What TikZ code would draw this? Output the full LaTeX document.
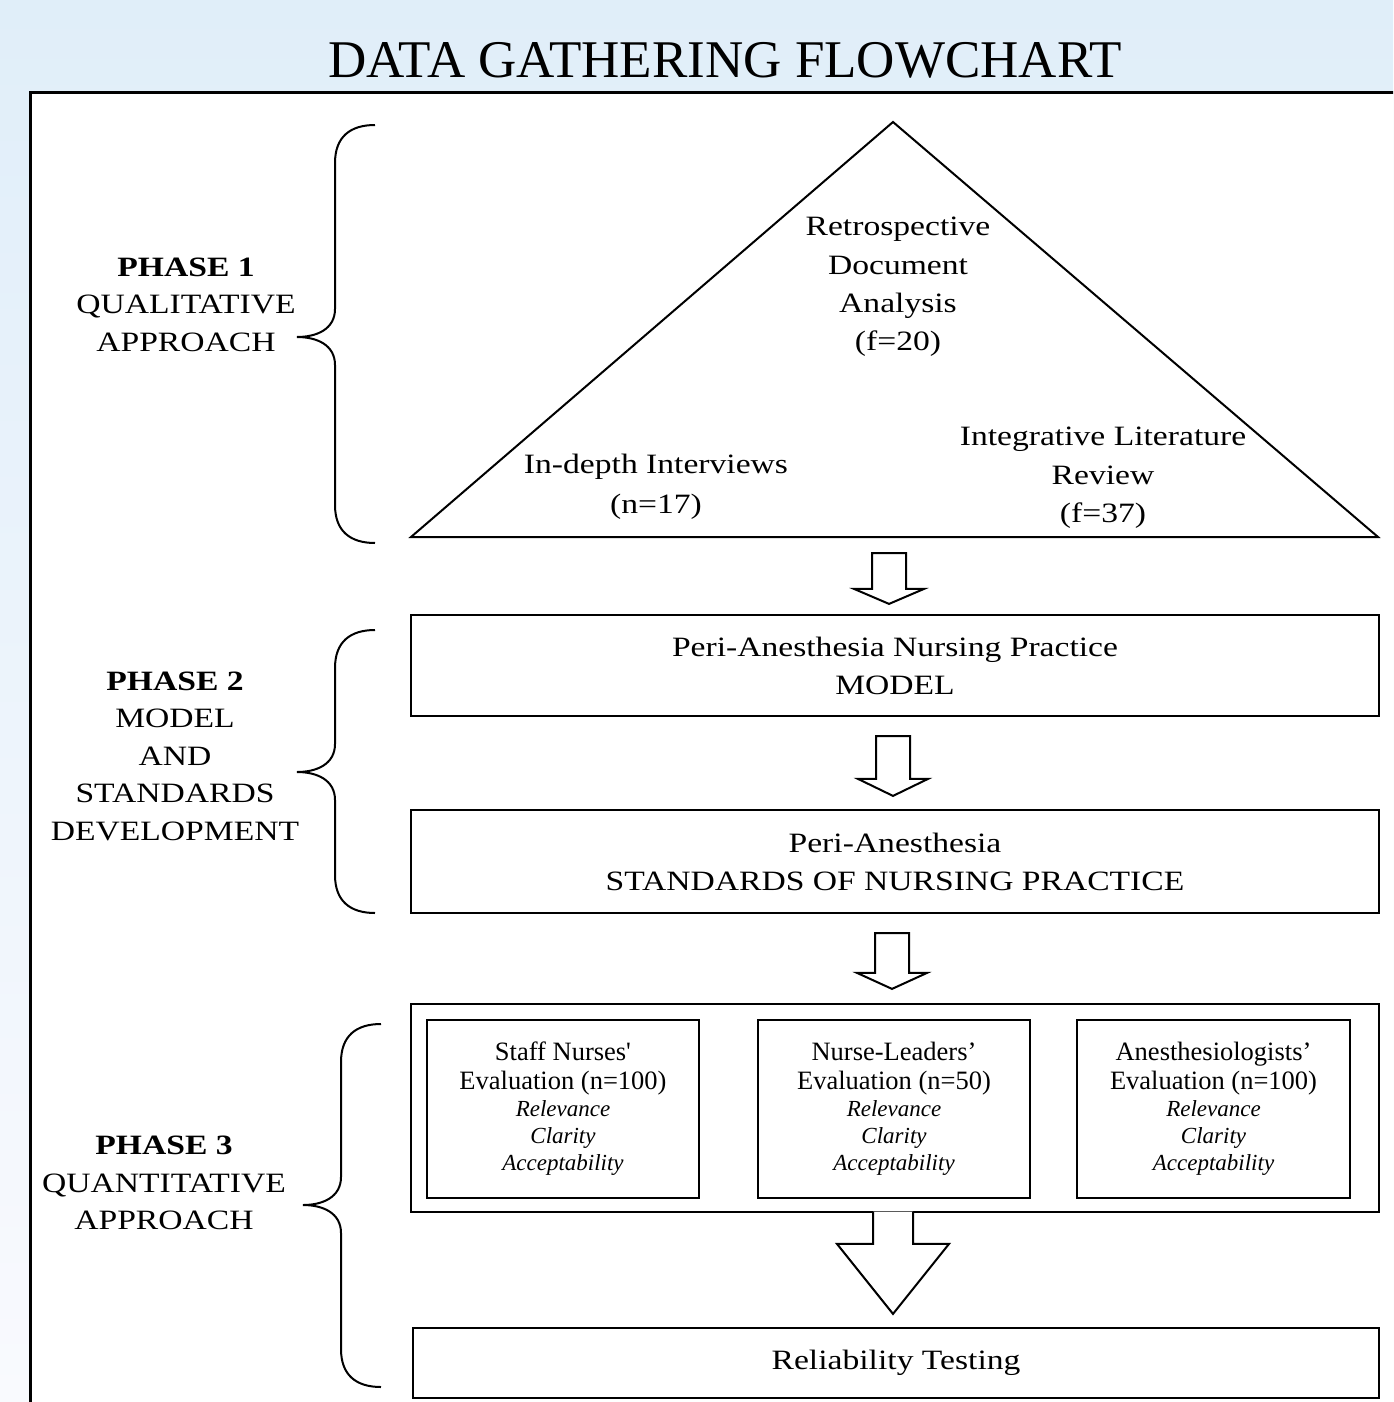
\documentclass[tikz,border=0pt]{standalone}
\usepackage{fontspec}
\setmainfont{Liberation Serif}
\newfontfamily\bookish[FakeStretch=1.2]{Liberation Serif}
\usepackage{tikz}

\definecolor{bgtop}{RGB}{224,238,249}
\definecolor{bgbot}{RGB}{249,250,254}

% llave de fase: x de la linea, y arriba, y punta, y abajo
\newcommand{\phasebrace}[4]{%
  \draw[bracket] (#1+40,#2) .. controls (#1+15,#2) and (#1,#2+12) .. (#1,#2+38)
    -- (#1,#3-28) .. controls (#1,#3-8) and (#1-18,#3) .. (#1-38,#3)
    .. controls (#1-18,#3) and (#1,#3+8) .. (#1,#3+28)
    -- (#1,#4-38) .. controls (#1,#4-12) and (#1+15,#4) .. (#1+40,#4);}

% flecha hueca: origen, punta, medio ancho cuerpo, medio ancho cabeza, largo cabeza, cierre
\newcommand{\hollowarrow}[6]{%
  \draw[blockarrow] ([xshift=-#3pt]#1) -- ([xshift=-#3pt,yshift=#5pt]#2)
    -- ([xshift=-#4pt,yshift=#5pt]#2) -- (#2) -- ([xshift=#4pt,yshift=#5pt]#2)
    -- ([xshift=#3pt,yshift=#5pt]#2) -- ([xshift=#3pt]#1) #6;}

\tikzset{
  bracket/.style={line width=2pt},
  triline/.style={line width=2pt, line join=miter},
  blockarrow/.style={line width=2pt, fill=white, line join=miter},
  flowbox/.style={draw, line width=2.2pt, inner sep=0pt, align=center,
    minimum width=968pt, font=\bookish\fontsize{28}{38}\selectfont},
  evalbox/.style={draw, line width=2.2pt, inner sep=0pt, align=center,
    minimum width=272pt, minimum height=178pt,
    font=\rmfamily\fontsize{26.5}{29}\selectfont},
  tritext/.style={align=center, inner sep=0pt, font=\bookish\fontsize{28}{38.3}\selectfont},
  phaselabel/.style={align=center, inner sep=0pt, font=\bookish\fontsize{28}{37.5}\selectfont},
}
\newcommand{\crit}[1]{{\itshape\fontsize{23}{27}\selectfont #1}}

\begin{document}
\begin{tikzpicture}[x=1pt, y=-1pt]
    \useasboundingbox (0,0) rectangle (1393,1402);
    \clip (0,0) rectangle (1393,1402);

    % Fondo y panel
    \shade[top color=bgtop, bottom color=bgbot] (0,0) rectangle (1393,1402);
    \draw[line width=3pt, fill=white] (30,93) rectangle (1420,1430);

    % Titulo
    \node[font=\fontsize{53}{60}\selectfont] (title) at (725,60) {DATA GATHERING FLOWCHART};

    % Fase 1: triangulo
    \coordinate (apex) at (893,122);
    \coordinate (baseL) at (411,537);
    \coordinate (baseR) at (1378,537);
    \coordinate (base) at (889,537);
    \draw[triline] (apex) -- (baseR) -- (baseL) -- cycle;
    \node[tritext] (retro) at (898,287) {Retrospective\\Document\\Analysis\\(f=20)};
    \node[tritext, font=\bookish\fontsize{28}{40}\selectfont] (interviews) at (656,487)
        {In-depth Interviews\\(n=17)};
    \node[tritext] (literature) at (1103,478) {Integrative Literature\\Review\\(f=37)};

    % Fase 2: cajas
    \node[flowbox, minimum height=101pt] (model) at (895,665.5)
        {Peri-Anesthesia Nursing Practice\\MODEL};
    \node[flowbox, minimum height=103pt] (standards) at (895,861.5)
        {Peri-Anesthesia\\STANDARDS OF NURSING PRACTICE};

    % Fase 3: evaluaciones
    \node[draw, line width=2.2pt, minimum width=968pt, minimum height=208pt] (evalgroup) at (895,1108) {};
    \node[evalbox] (staff) at (563,1109)
        {Staff Nurses\textquotesingle\\Evaluation (n=100)\\[-2pt]\crit{Relevance}\\[-2pt]\crit{Clarity}\\[-2pt]\crit{Acceptability}};
    \node[evalbox] (leaders) at (894,1109)
        {Nurse-Leaders’\\Evaluation (n=50)\\[-2pt]\crit{Relevance}\\[-2pt]\crit{Clarity}\\[-2pt]\crit{Acceptability}};
    \node[evalbox, minimum width=273pt] (anesth) at (1213.5,1109)
        {Anesthesiologists’\\Evaluation (n=100)\\[-2pt]\crit{Relevance}\\[-2pt]\crit{Clarity}\\[-2pt]\crit{Acceptability}};
    \node[flowbox, minimum width=966pt, minimum height=70pt] (reliab) at (896,1363)
        {Reliability Testing};

    % Flechas entre bloques
    \coordinate (a1s) at ([yshift=-16pt]base);
    \coordinate (a1t) at ([xshift=-6pt,yshift=10pt]model.north);
    \coordinate (a2s) at ([xshift=-2pt,yshift=-19pt]model.south);
    \coordinate (a2t) at ([xshift=-2pt,yshift=13pt]standards.north);
    \coordinate (a3s) at ([xshift=-3pt,yshift=-19pt]standards.south);
    \coordinate (a3t) at ([xshift=-3pt,yshift=14pt]evalgroup.north);
    \coordinate (a4s) at ([xshift=-2pt,yshift=1.5pt]evalgroup.south);
    \coordinate (a4t) at ([xshift=-3pt,yshift=13pt]reliab.north);
    \hollowarrow{a1s}{a1t}{17}{35}{15}{-- cycle}
    \hollowarrow{a2s}{a2t}{17}{35}{17}{-- cycle}
    \hollowarrow{a3s}{a3t}{17}{35}{16}{-- cycle}
    \hollowarrow{a4s}{a4t}{20}{56}{70}{}

    % Etiquetas de fase
    \node[phaselabel] (phaseone) at (186,304.5) {\textbf{PHASE 1}\\QUALITATIVE\\APPROACH};
    \node[phaselabel] (phasetwo) at (175,756) {\textbf{PHASE 2}\\MODEL\\AND\\STANDARDS\\DEVELOPMENT};
    \node[phaselabel] (phasethree) at (164,1183) {\textbf{PHASE 3}\\QUANTITATIVE\\APPROACH};

    % Llaves
    \phasebrace{335}{125}{337}{543}
    \phasebrace{335}{630}{772}{913}
    \phasebrace{341}{1024}{1205}{1387}
\end{tikzpicture}
\end{document}
